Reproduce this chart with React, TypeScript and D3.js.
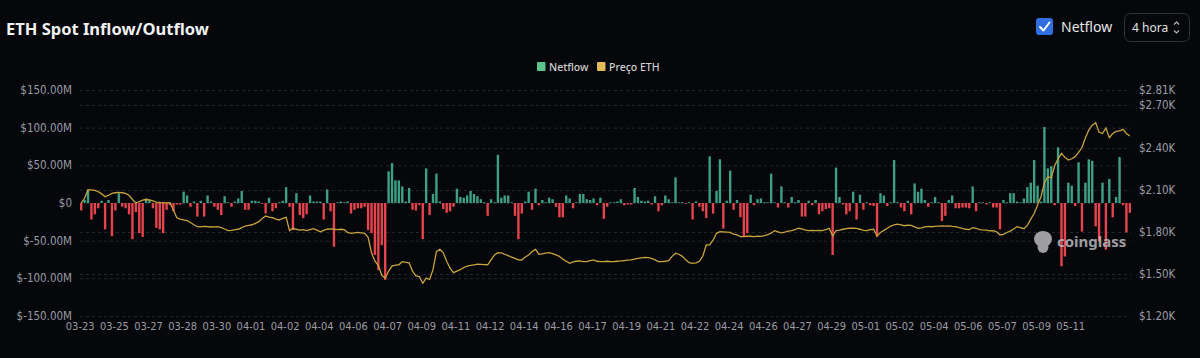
import * as d3 from "d3";
import {useEffect, useRef} from "react";

// netflow per 4h bar, millions USD
const netflow = [
    -10, 4, 18, -22, -15, -7, 3, -35, 4, -44,
    -10, 13, -5, -7, -15, -48, -12, -40, -45, 6,
    4, -7, -33, -35, -40, -9, -3, -11, -2, -2,
    15, 10, -5, 2, -18, 3, -18, 10, 2, -5,
    -9, -16, 9, 1, -5, 2, 6, 16, -9, -9,
    3, 3, 2, -1, -14, 7, -11, -7, 1, 3,
    21, -5, -36, 13, -16, -20, -15, 10, 2, 2,
    2, -22, 18, -11, -58, 1, 2, 1, 2, -14,
    -9, -7, -7, -5, -36, -40, -69, -89, -56, -102,
    42, 53, 30, 30, 22, 2, 20, -9, -10, -3,
    -48, 46, -16, 12, 39, 2, -8, -13, -11, -5,
    19, 8, 7, 10, 16, 12, 9, 5, 1, -17,
    5, 1, 64, 7, 10, 10, 1, -17, -48, -14,
    2, 15, -9, 19, -3, 4, 1, 7, 5, -5,
    -19, -19, 10, 6, -7, 1, 12, 12, 5, 4,
    6, -3, 7, -21, -5, 1, 1, 2, 5, -3,
    -2, -2, 20, 8, 3, 2, 3, -2, 9, -11,
    -3, 10, 5, 1, 34, 1, 1, -1, 1, -22,
    2, -5, -11, -20, 62, -14, 16, 58, -34, 3,
    43, -9, 4, -19, -45, -40, 11, -3, 5, 6,
    1, 1, 39, 1, -6, 22, 1, -6, 8, 1,
    4, -18, -18, 3, -3, 4, -15, -11, -8, -7,
    -69, 47, 8, -2, -15, -11, 15, -22, 11, -9,
    1, -3, -4, -45, 13, 10, -4, 1, 57, 1,
    -6, -11, 3, -15, 26, 15, 19, 4, -5, 1,
    8, 1, -24, -17, 4, 10, -7, -7, -6, -6,
    -7, 22, -11, 1, 1, -2, 1, -6, -6, -35,
    4, 1, 13, 13, 2, 1, 6, 21, 27, 57,
    23, 2, 101, 46, 49, -3, 74, -84, -71, 27,
    23, -4, 54, -38, 27, 58, 56, -31, -51, 27,
    -62, 32, -19, 8, 61, -3, -39, -13
]

// ETH price, USD
const ethPrice = [
    2005, 2040, 2098, 2098, 2095, 2085, 2070, 2050, 2060, 2074,
    2078, 2080, 2078, 2074, 2060, 2030, 2005, 2015, 2026, 2030,
    2028, 2020, 2012, 2007, 2008, 2006, 2007, 1955, 1900, 1890,
    1884, 1880, 1866, 1850, 1836, 1835, 1838, 1836, 1834, 1835,
    1836, 1830, 1820, 1808, 1810, 1815, 1818, 1830, 1841, 1845,
    1850, 1860, 1872, 1895, 1912, 1905, 1900, 1890, 1884, 1895,
    1903, 1808, 1825, 1818, 1812, 1815, 1808, 1815, 1822, 1812,
    1800, 1810, 1818, 1820, 1818, 1816, 1818, 1815, 1795, 1789,
    1792, 1795, 1792, 1789, 1760, 1650, 1590, 1560, 1490, 1469,
    1520, 1555, 1563, 1565, 1587, 1582, 1578, 1520, 1485, 1480,
    1433, 1470, 1460, 1530, 1658, 1675, 1650, 1590, 1540, 1509,
    1520, 1530, 1545, 1556, 1560, 1565, 1570, 1568, 1566, 1565,
    1600, 1635, 1651, 1650, 1640, 1630, 1620, 1610, 1600, 1599,
    1620, 1635, 1660, 1675, 1640, 1643, 1648, 1651, 1645, 1635,
    1625, 1605, 1590, 1575, 1585, 1590, 1592, 1588, 1587, 1595,
    1600, 1590, 1587, 1588, 1590, 1588, 1587, 1590, 1592, 1595,
    1598, 1600, 1605, 1610, 1614, 1618, 1616, 1610, 1600, 1587,
    1588, 1590, 1595, 1625, 1647, 1640, 1625, 1600, 1580, 1575,
    1578, 1590, 1627, 1706, 1706, 1740, 1789, 1801, 1800, 1798,
    1796, 1784, 1778, 1765, 1766, 1768, 1768, 1766, 1768, 1767,
    1772, 1780, 1790, 1808, 1800, 1792, 1798, 1805, 1808, 1815,
    1825, 1820, 1812, 1808, 1810, 1808, 1810, 1808, 1815, 1825,
    1770, 1808, 1812, 1818, 1822, 1825, 1826, 1824, 1818, 1810,
    1808, 1815, 1818, 1770, 1795, 1810, 1825, 1840, 1850, 1855,
    1850, 1843, 1848, 1845, 1835, 1825, 1828, 1835, 1838, 1836,
    1838, 1840, 1841, 1840, 1842, 1838, 1836, 1830, 1825, 1818,
    1815, 1830, 1825, 1815, 1813, 1812, 1806, 1808, 1800, 1777,
    1782, 1795, 1805, 1820, 1836, 1830, 1822, 1845, 1890, 1930,
    1990, 2050, 2150, 2190, 2185, 2270, 2320, 2359, 2330, 2311,
    2320, 2335, 2365, 2400, 2470, 2525, 2560, 2577, 2510, 2500,
    2540, 2470, 2500, 2515, 2518, 2530, 2500, 2482
]

// one label every 10 bars
const xTickLabels = [
    "03-23", "03-25", "03-27", "03-28", "03-30", "04-01", "04-02", "04-04", "04-06", "04-07",
    "04-09", "04-11", "04-12", "04-14", "04-16", "04-17", "04-19", "04-21", "04-22", "04-24",
    "04-26", "04-27", "04-29", "05-01", "05-02", "05-04", "05-06", "05-07", "05-09", "05-11"
]
const leftTicks = [150, 100, 50, 0, -50, -100, -150]
const rightTicks = [2810, 2700, 2400, 2100, 1800, 1500, 1200]

const axisFont = "'Liberation Sans Narrow', 'DejaVu Sans Condensed', Roboto, sans-serif"
const uiFont = "'Noto Sans', 'Open Sans', sans-serif"

const App = () => {
    const ref = useRef(null)

    useEffect(() => {
        const svg = d3.select(ref.current)
        svg.selectAll("*").remove()

        const x = d3.scaleBand()
            .domain(d3.range(netflow.length))
            .range([80, 1131])
            .paddingInner(0.3)
            .paddingOuter(0)
        const yL = d3.scaleLinear().domain([-150, 150]).range([316, 90])
        const yR = d3.scaleLinear().domain([1200, 2810]).range([316, 90])
        const cx = (i) => x(i) + x.bandwidth() / 2

        // header
        svg.append("text")
            .attr("x", 6).attr("y", 35)
            .attr("fill", "#f2f2f2")
            .style("font", `bold 16.5px ${uiFont}`)
            .text("ETH Spot Inflow/Outflow")

        svg.append("rect")
            .attr("x", 1036).attr("y", 18).attr("width", 17).attr("height", 17).attr("rx", 3)
            .attr("fill", "#2f6fe0")
        svg.append("path")
            .attr("d", "M1040,27 L1043.5,30.5 L1049.5,22.5")
            .attr("fill", "none").attr("stroke", "#fff").attr("stroke-width", 2)
            .attr("stroke-linecap", "round").attr("stroke-linejoin", "round")
        svg.append("text")
            .attr("x", 1061).attr("y", 32)
            .attr("fill", "#e6e6e6")
            .style("font", `14px ${uiFont}`)
            .text("Netflow")

        svg.append("rect")
            .attr("x", 1124.5).attr("y", 13.5).attr("width", 65).attr("height", 28).attr("rx", 6)
            .attr("fill", "none").attr("stroke", "#30323a")
        svg.append("text")
            .attr("x", 1132).attr("y", 32)
            .attr("fill", "#e0e0e0")
            .style("font", `12px ${uiFont}`)
            .text("4 hora")
        svg.append("path")
            .attr("d", "M1174,24.5 L1176.5,22 L1179,24.5 M1174,30.5 L1176.5,33 L1179,30.5")
            .attr("fill", "none").attr("stroke", "#bbb").attr("stroke-width", 1.1)

        // legend
        const legend = [
            {label: "Netflow", color: "#5cc48b", x: 537},
            {label: "Preço ETH", color: "#e3bb58", x: 597}
        ]
        legend.forEach(l => {
            svg.append("rect")
                .attr("x", l.x).attr("y", 62).attr("width", 8.5).attr("height", 9).attr("rx", 1)
                .attr("fill", l.color)
            svg.append("text")
                .attr("x", l.x + 12).attr("y", 70.5)
                .attr("fill", "#cfcfcf")
                .style("font", `500 10.5px ${uiFont}`)
                .text(l.label)
        })

        // grid
        const grid = svg.append("g")
            .attr("stroke", "#24262d").attr("stroke-dasharray", "3,3")
        leftTicks.forEach(t => grid.append("line")
            .attr("x1", 80).attr("x2", 1131)
            .attr("y1", yL(t) + 0.5).attr("y2", yL(t) + 0.5))
        rightTicks.forEach(t => grid.append("line")
            .attr("x1", 80).attr("x2", 1131)
            .attr("y1", Math.round(yR(t)) + 0.5).attr("y2", Math.round(yR(t)) + 0.5))

        // axis labels
        svg.append("g").selectAll("text")
            .data(leftTicks).enter().append("text")
            .attr("x", 72).attr("y", d => yL(d) + 4)
            .attr("text-anchor", "end")
            .attr("fill", "#9a9ca3")
            .style("font", `11.5px ${axisFont}`)
            .text(d => d === 0 ? "$0" : `$${d.toFixed(2)}M`)

        svg.append("g").selectAll("text")
            .data(rightTicks).enter().append("text")
            .attr("x", 1139).attr("y", d => yR(d) + 4)
            .attr("fill", "#9a9ca3")
            .style("font", `11.5px ${axisFont}`)
            .text(d => `$${(d / 1000).toFixed(2)}K`)

        svg.append("g").selectAll("text")
            .data(xTickLabels).enter().append("text")
            .attr("x", (d, k) => cx(k * 10) - 1)
            .attr("y", 330)
            .attr("text-anchor", "middle")
            .attr("fill", "#9a9ca3")
            .style("font", `11px ${axisFont}`)
            .text(d => d)

        // bars
        svg.append("g").selectAll("rect")
            .data(netflow).enter().append("rect")
            .attr("x", (d, i) => x(i))
            .attr("width", x.bandwidth())
            .attr("y", d => yL(Math.max(0, d)))
            .attr("height", d => Math.max(0.8, Math.abs(yL(d) - yL(0))))
            .attr("fill", d => d >= 0 ? "#3c9f86" : "#e5444c")

        // price line
        const line = d3.line()
            .x((d, i) => cx(i))
            .y(d => yR(d))
        svg.append("path")
            .datum(ethPrice)
            .attr("d", line)
            .attr("fill", "none")
            .attr("stroke", "#c8a23c")
            .attr("stroke-width", 1.3)

        // watermark
        const wm = svg.append("g").attr("fill", "#b9b9bd").attr("opacity", 0.85)
        wm.append("ellipse").attr("cx", 1043).attr("cy", 239).attr("rx", 9).attr("ry", 8)
        wm.append("ellipse").attr("cx", 1043).attr("cy", 247).attr("rx", 5.5).attr("ry", 6)
        wm.append("text")
            .attr("x", 1057).attr("y", 247)
            .style("font", `bold 15px ${uiFont}`)
            .text("coinglass")
    }, [])

    return (
        <div>
            <style>{"body{margin:0;background:#06070b}"}</style>
            <svg
                ref={ref}
                width={1200}
                height={358}
                style={{display: "block", background: "#06070b"}}>
            </svg>
        </div>
    )
}

export default App
